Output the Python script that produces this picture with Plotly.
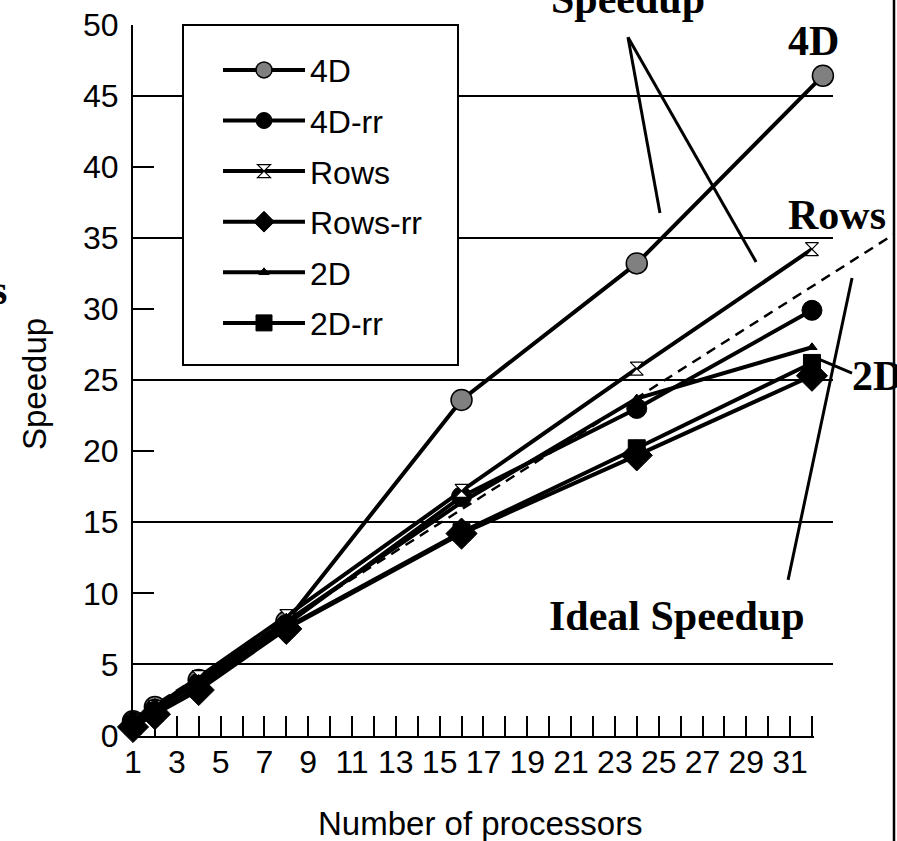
import plotly.graph_objects as go

# ---------------- data ----------------
procs = [1, 2, 4, 8, 16, 24, 32]
procs_4d = [1, 2, 4, 8, 16, 24, 32.5]
speed_4d = [1.0, 2.0, 3.9, 8.0, 23.6, 33.2, 46.4]
speed_4d_rr = [0.95, 1.85, 3.7, 7.8, 16.8, 23.0, 29.9]
speed_rows = [1.0, 2.0, 4.1, 8.4, 17.2, 25.8, 34.2]
speed_rows_rr = [0.6, 1.5, 3.2, 7.5, 14.2, 19.7, 25.3]
speed_2d = [1.0, 2.0, 3.9, 8.0, 16.4, 23.7, 27.3]
speed_2d_rr = [0.7, 1.6, 3.4, 7.6, 14.3, 20.2, 26.2]
ideal_x = [1, 35.8]
ideal_y = [1.2, 35.3]

x_tickvals = list(range(1, 33))
x_ticktext = [str(v) if v % 2 == 1 else "" for v in x_tickvals]

# annotation leader lines (data coords of the wide data subplot)
leader_lines = [
    (23.6, 49.1, 25.06, 36.74),
    (23.6, 49.1, 29.45, 33.3),
    (33.83, 32.17, 30.91, 10.94),
    (32.28, 26.48, 33.83, 25.49),
]

W, H = 897, 841
OFF = 0  # body margin removed by post_script
SANS = "Liberation Sans, Arial, sans-serif"
SERIF = "Liberation Serif, Times New Roman, serif"

def px_x(p):
    return (p - OFF) / W

def px_y(p):
    return 1 - (p - OFF) / H

ydom = [px_y(735.5), px_y(24.5)]

fig = go.Figure()

fig.add_trace(go.Scatter(x=[], y=[], xaxis="x", yaxis="y", showlegend=False, hoverinfo="skip"))
fig.add_trace(go.Scatter(x=[], y=[], xaxis="x3", yaxis="y3", showlegend=False, hoverinfo="skip"))

series = [
    ("4D", procs_4d, speed_4d, dict(symbol="circle", size=21, color="#808080", line=dict(color="black", width=1.5))),
    ("4D-rr", procs, speed_4d_rr, dict(symbol="circle", size=20, color="black", line=dict(color="black", width=1))),
    ("Rows", procs, speed_rows, dict(symbol="hourglass", size=13, color="white", line=dict(color="black", width=1.2))),
    ("Rows-rr", procs, speed_rows_rr, dict(symbol="diamond", size=24, color="black", line=dict(color="black", width=1))),
    ("2D", procs, speed_2d, dict(symbol="triangle-up", size=9, color="black", line=dict(color="black", width=1))),
    ("2D-rr", procs, speed_2d_rr, dict(symbol="square", size=17, color="black", line=dict(color="black", width=1))),
]

fig.add_trace(go.Scatter(x=ideal_x, y=ideal_y, mode="lines", xaxis="x2", yaxis="y2",
                         line=dict(color="black", width=2.5, dash="10px,7px"),
                         showlegend=False, hoverinfo="skip"))

for name, xs, ys, mk in series:
    fig.add_trace(go.Scatter(x=xs, y=ys, name=name, mode="lines+markers",
                             xaxis="x2", yaxis="y2", legendgroup=name,
                             line=dict(color="black", width=4), marker=mk,
                             cliponaxis=False))

fig.update_layout(
    width=W, height=H,
    margin=dict(l=0, r=0, t=0, b=0, autoexpand=False),
    paper_bgcolor="white", plot_bgcolor="rgba(0,0,0,0)",
    font=dict(family=SANS, size=32, color="black"),
    showlegend=True,
    legend=dict(x=px_x(218), y=px_y(27), xanchor="left", yanchor="top",
                bgcolor="rgba(0,0,0,0)", borderwidth=0,
                font=dict(family=SANS, size=32, color="black"),
                title=dict(text=" ", font=dict(size=12)),
                itemwidth=82, traceorder="grouped", tracegroupgap=6),
    xaxis=dict(domain=[px_x(133), px_x(833)], range=[1, 32.96], visible=False, anchor="y"),
    yaxis=dict(domain=ydom, range=[0, 50], anchor="x", showgrid=True, gridcolor="black", gridwidth=2,
               tick0=5, dtick=10, showticklabels=False, ticks="", showline=False, zeroline=False),
    xaxis2=dict(domain=[px_x(133), px_x(893)], range=[1, 35.70], visible=False, anchor="y2"),
    yaxis2=dict(domain=ydom, range=[0, 50], visible=False, anchor="x2"),
    xaxis3=dict(domain=[px_x(133), px_x(814)], range=[1, 32.09], anchor="y3",
                showline=True, linecolor="black", linewidth=2, ticks="inside", ticklen=20,
                tickwidth=2, tickcolor="black", tickvals=x_tickvals, ticktext=x_ticktext,
                showgrid=False, zeroline=False, tickfont=dict(family=SANS, size=32),
                ticklabelstandoff=-3, ticklabeloverflow="allow"),
    yaxis3=dict(domain=ydom, range=[0, 50], anchor="x3", showline=True, linecolor="black",
                linewidth=2, ticks="inside", ticklen=21, tickwidth=2, tickcolor="black",
                tick0=0, dtick=5, showgrid=False, zeroline=False,
                tickfont=dict(family=SANS, size=32), ticklabelstandoff=6,
                ticklabeloverflow="allow"),
)

shapes = []
# legend frame (white box with border, covering the gridlines like the original)
shapes.append(dict(type="rect", xref="paper", yref="paper", layer="above",
                   x0=px_x(183), x1=px_x(458), y0=px_y(365), y1=px_y(25),
                   fillcolor="white", line=dict(color="black", width=2)))
for x0, y0, x1, y1 in leader_lines:
    shapes.append(dict(type="line", xref="x2", yref="y2", x0=x0, y0=y0, x1=x1, y1=y1,
                       line=dict(color="black", width=3)))
shapes.append(dict(type="line", xref="paper", yref="paper", x0=px_x(894), x1=px_x(894), y0=0, y1=1,
                   line=dict(color="black", width=2.5)))
fig.update_layout(shapes=shapes)

annotations = [
    dict(text="Speedup", x=px_x(628), y=px_y(-1), font=dict(family=SERIF, size=42)),
    dict(text="4D", x=px_x(813), y=px_y(41), font=dict(family=SERIF, size=42)),
    dict(text="Rows", x=px_x(837), y=px_y(215), font=dict(family=SERIF, size=42)),
    dict(text="2D", x=px_x(877), y=px_y(376), font=dict(family=SERIF, size=42)),
    dict(text="Ideal Speedup", x=px_x(677), y=px_y(616), font=dict(family=SERIF, size=42)),
    dict(text="s", x=px_x(-1), y=px_y(290), font=dict(family=SERIF, size=42)),
    dict(text="Speedup", x=px_x(34), y=px_y(384), textangle=-90, font=dict(family=SANS, size=33)),
    dict(text="Number of processors", x=px_x(480), y=px_y(823), font=dict(family=SANS, size=33)),
]
anns = []
for a in annotations:
    a = dict(a)
    if a["font"]["family"] == SERIF:
        a["text"] = "<b>" + a["text"] + "</b>"
    a.update(xref="paper", yref="paper", showarrow=False, xanchor="center", yanchor="middle")
    anns.append(a)
fig.update_layout(annotations=anns)

fig.write_html("out.html", config={"displayModeBar": False},
               post_script="document.body.style.margin='0px';document.body.style.overflow='hidden';")
